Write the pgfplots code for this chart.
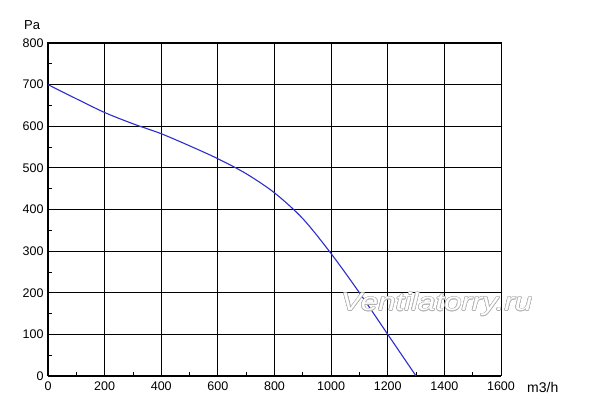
\documentclass[border=0pt]{standalone}
\usepackage{pgfplots}
\pgfplotsset{compat=1.18}
\usepackage{fontspec}
\setmainfont{Liberation Sans}
\usepackage{contour}
\contourlength{0.5pt}
\definecolor{curve}{RGB}{45,45,205}

\begin{document}
\begin{tikzpicture}
\begin{axis}[
  scale only axis,
  width=453pt, height=333pt,
  xmin=0, xmax=1600, ymin=0, ymax=800,
  xtick={0,200,...,1600}, ytick={0,100,...,800},
  minor x tick num=1, minor y tick num=1,
  grid=major,
  major grid style={black, line width=0.8pt},
  major tick length=0pt,
  minor tick length=4pt,
  minor tick style={black, line width=0.8pt},
  tick align=inside,
  axis line style={black, line width=1pt},
  xtick pos=bottom, ytick pos=left,
  tick label style={font=\fontsize{12.5}{14}\selectfont},
  /pgf/number format/assume math mode=true,
  /pgf/number format/1000 sep={},
  xticklabel style={yshift=-2pt},
  yticklabel style={xshift=-1pt},
  clip=false,
]
\addplot[curve, line width=1.1pt, smooth] coordinates {
  (0,700) (100,666) (200,633) (300,606) (400,582) (500,553)
  (600,522) (700,486) (800,440) (900,378) (1000,294)
  (1100,200) (1200,100) (1300,0)
};
\node[anchor=center, font=\fontsize{13}{15}\selectfont] at (rel axis cs:-0.035,1.055) {Pa};
\node[anchor=west, font=\fontsize{14}{16}\selectfont] at (rel axis cs:1.05,-0.035) {m3/h};
\node[font=\fontsize{25}{27}\selectfont\itshape, xscale=1.25] at (axis cs:1373,172)
  {\contour{gray!60}{\textcolor{white}{Ventilatorry.ru}}};
\end{axis}
\path (current axis.south west) ++(-48pt,-36pt) coordinate (bl);
\path (current axis.south west) ++(552pt,376pt) coordinate (tr);
\path[use as bounding box] (bl) rectangle (tr);
\end{tikzpicture}
\end{document}
